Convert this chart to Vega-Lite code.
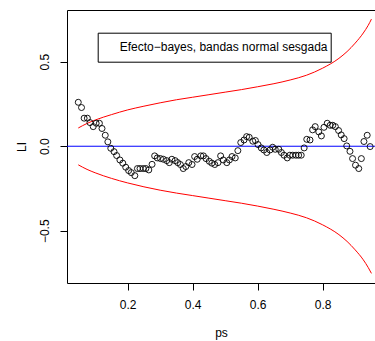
{
  "$schema": "https://vega.github.io/schema/vega-lite/v6.json",
  "width": 308,
  "height": 273,
  "autosize": "none",
  "padding": {"left": 67, "top": 10, "right": 0, "bottom": 58},
  "background": "white",
  "config": {
    "view": {"stroke": null},
    "font": "Liberation Sans",
    "axis": {"labelFont": "Liberation Sans", "titleFont": "Liberation Sans", "labelFontSize": 12, "titleFontSize": 12, "titleFontWeight": "normal", "labelColor": "black", "titleColor": "black", "tickColor": "black", "domainColor": "black", "grid": false}
  },
  "datasets": {
    "pts": [
      {"ps": 0.048, "LI": 0.26, "serie": "Efecto−bayes, bandas normal sesgada"},
      {"ps": 0.058, "LI": 0.229, "serie": "Efecto−bayes, bandas normal sesgada"},
      {"ps": 0.066, "LI": 0.166, "serie": "Efecto−bayes, bandas normal sesgada"},
      {"ps": 0.076, "LI": 0.166, "serie": "Efecto−bayes, bandas normal sesgada"},
      {"ps": 0.084, "LI": 0.14, "serie": "Efecto−bayes, bandas normal sesgada"},
      {"ps": 0.094, "LI": 0.116, "serie": "Efecto−bayes, bandas normal sesgada"},
      {"ps": 0.103, "LI": 0.136, "serie": "Efecto−bayes, bandas normal sesgada"},
      {"ps": 0.113, "LI": 0.136, "serie": "Efecto−bayes, bandas normal sesgada"},
      {"ps": 0.121, "LI": 0.105, "serie": "Efecto−bayes, bandas normal sesgada"},
      {"ps": 0.131, "LI": 0.065, "serie": "Efecto−bayes, bandas normal sesgada"},
      {"ps": 0.139, "LI": 0.026, "serie": "Efecto−bayes, bandas normal sesgada"},
      {"ps": 0.148, "LI": -0.012, "serie": "Efecto−bayes, bandas normal sesgada"},
      {"ps": 0.158, "LI": -0.032, "serie": "Efecto−bayes, bandas normal sesgada"},
      {"ps": 0.166, "LI": -0.055, "serie": "Efecto−bayes, bandas normal sesgada"},
      {"ps": 0.176, "LI": -0.081, "serie": "Efecto−bayes, bandas normal sesgada"},
      {"ps": 0.185, "LI": -0.1, "serie": "Efecto−bayes, bandas normal sesgada"},
      {"ps": 0.194, "LI": -0.124, "serie": "Efecto−bayes, bandas normal sesgada"},
      {"ps": 0.203, "LI": -0.144, "serie": "Efecto−bayes, bandas normal sesgada"},
      {"ps": 0.211, "LI": -0.156, "serie": "Efecto−bayes, bandas normal sesgada"},
      {"ps": 0.222, "LI": -0.174, "serie": "Efecto−bayes, bandas normal sesgada"},
      {"ps": 0.23, "LI": -0.132, "serie": "Efecto−bayes, bandas normal sesgada"},
      {"ps": 0.238, "LI": -0.132, "serie": "Efecto−bayes, bandas normal sesgada"},
      {"ps": 0.248, "LI": -0.132, "serie": "Efecto−bayes, bandas normal sesgada"},
      {"ps": 0.256, "LI": -0.132, "serie": "Efecto−bayes, bandas normal sesgada"},
      {"ps": 0.265, "LI": -0.14, "serie": "Efecto−bayes, bandas normal sesgada"},
      {"ps": 0.275, "LI": -0.107, "serie": "Efecto−bayes, bandas normal sesgada"},
      {"ps": 0.283, "LI": -0.057, "serie": "Efecto−bayes, bandas normal sesgada"},
      {"ps": 0.291, "LI": -0.069, "serie": "Efecto−bayes, bandas normal sesgada"},
      {"ps": 0.301, "LI": -0.073, "serie": "Efecto−bayes, bandas normal sesgada"},
      {"ps": 0.31, "LI": -0.077, "serie": "Efecto−bayes, bandas normal sesgada"},
      {"ps": 0.32, "LI": -0.085, "serie": "Efecto−bayes, bandas normal sesgada"},
      {"ps": 0.328, "LI": -0.097, "serie": "Efecto−bayes, bandas normal sesgada"},
      {"ps": 0.336, "LI": -0.077, "serie": "Efecto−bayes, bandas normal sesgada"},
      {"ps": 0.346, "LI": -0.085, "serie": "Efecto−bayes, bandas normal sesgada"},
      {"ps": 0.354, "LI": -0.097, "serie": "Efecto−bayes, bandas normal sesgada"},
      {"ps": 0.362, "LI": -0.108, "serie": "Efecto−bayes, bandas normal sesgada"},
      {"ps": 0.371, "LI": -0.132, "serie": "Efecto−bayes, bandas normal sesgada"},
      {"ps": 0.379, "LI": -0.12, "serie": "Efecto−bayes, bandas normal sesgada"},
      {"ps": 0.388, "LI": -0.097, "serie": "Efecto−bayes, bandas normal sesgada"},
      {"ps": 0.398, "LI": -0.108, "serie": "Efecto−bayes, bandas normal sesgada"},
      {"ps": 0.406, "LI": -0.061, "serie": "Efecto−bayes, bandas normal sesgada"},
      {"ps": 0.414, "LI": -0.077, "serie": "Efecto−bayes, bandas normal sesgada"},
      {"ps": 0.425, "LI": -0.057, "serie": "Efecto−bayes, bandas normal sesgada"},
      {"ps": 0.433, "LI": -0.057, "serie": "Efecto−bayes, bandas normal sesgada"},
      {"ps": 0.441, "LI": -0.073, "serie": "Efecto−bayes, bandas normal sesgada"},
      {"ps": 0.451, "LI": -0.089, "serie": "Efecto−bayes, bandas normal sesgada"},
      {"ps": 0.459, "LI": -0.1, "serie": "Efecto−bayes, bandas normal sesgada"},
      {"ps": 0.468, "LI": -0.108, "serie": "Efecto−bayes, bandas normal sesgada"},
      {"ps": 0.478, "LI": -0.097, "serie": "Efecto−bayes, bandas normal sesgada"},
      {"ps": 0.486, "LI": -0.057, "serie": "Efecto−bayes, bandas normal sesgada"},
      {"ps": 0.494, "LI": -0.081, "serie": "Efecto−bayes, bandas normal sesgada"},
      {"ps": 0.505, "LI": -0.097, "serie": "Efecto−bayes, bandas normal sesgada"},
      {"ps": 0.513, "LI": -0.081, "serie": "Efecto−bayes, bandas normal sesgada"},
      {"ps": 0.521, "LI": -0.061, "serie": "Efecto−bayes, bandas normal sesgada"},
      {"ps": 0.531, "LI": -0.069, "serie": "Efecto−bayes, bandas normal sesgada"},
      {"ps": 0.539, "LI": -0.026, "serie": "Efecto−bayes, bandas normal sesgada"},
      {"ps": 0.548, "LI": 0.022, "serie": "Efecto−bayes, bandas normal sesgada"},
      {"ps": 0.558, "LI": 0.037, "serie": "Efecto−bayes, bandas normal sesgada"},
      {"ps": 0.566, "LI": 0.057, "serie": "Efecto−bayes, bandas normal sesgada"},
      {"ps": 0.574, "LI": 0.053, "serie": "Efecto−bayes, bandas normal sesgada"},
      {"ps": 0.585, "LI": 0.03, "serie": "Efecto−bayes, bandas normal sesgada"},
      {"ps": 0.593, "LI": 0.034, "serie": "Efecto−bayes, bandas normal sesgada"},
      {"ps": 0.601, "LI": 0.01, "serie": "Efecto−bayes, bandas normal sesgada"},
      {"ps": 0.611, "LI": -0.01, "serie": "Efecto−bayes, bandas normal sesgada"},
      {"ps": 0.619, "LI": -0.022, "serie": "Efecto−bayes, bandas normal sesgada"},
      {"ps": 0.628, "LI": -0.037, "serie": "Efecto−bayes, bandas normal sesgada"},
      {"ps": 0.638, "LI": -0.022, "serie": "Efecto−bayes, bandas normal sesgada"},
      {"ps": 0.646, "LI": -0.006, "serie": "Efecto−bayes, bandas normal sesgada"},
      {"ps": 0.654, "LI": -0.018, "serie": "Efecto−bayes, bandas normal sesgada"},
      {"ps": 0.665, "LI": -0.018, "serie": "Efecto−bayes, bandas normal sesgada"},
      {"ps": 0.673, "LI": -0.037, "serie": "Efecto−bayes, bandas normal sesgada"},
      {"ps": 0.681, "LI": -0.053, "serie": "Efecto−bayes, bandas normal sesgada"},
      {"ps": 0.691, "LI": -0.069, "serie": "Efecto−bayes, bandas normal sesgada"},
      {"ps": 0.699, "LI": -0.053, "serie": "Efecto−bayes, bandas normal sesgada"},
      {"ps": 0.708, "LI": -0.053, "serie": "Efecto−bayes, bandas normal sesgada"},
      {"ps": 0.718, "LI": -0.053, "serie": "Efecto−bayes, bandas normal sesgada"},
      {"ps": 0.726, "LI": -0.053, "serie": "Efecto−bayes, bandas normal sesgada"},
      {"ps": 0.734, "LI": -0.053, "serie": "Efecto−bayes, bandas normal sesgada"},
      {"ps": 0.743, "LI": -0.01, "serie": "Efecto−bayes, bandas normal sesgada"},
      {"ps": 0.751, "LI": 0.041, "serie": "Efecto−bayes, bandas normal sesgada"},
      {"ps": 0.761, "LI": 0.037, "serie": "Efecto−bayes, bandas normal sesgada"},
      {"ps": 0.769, "LI": 0.097, "serie": "Efecto−bayes, bandas normal sesgada"},
      {"ps": 0.777, "LI": 0.116, "serie": "Efecto−bayes, bandas normal sesgada"},
      {"ps": 0.788, "LI": 0.085, "serie": "Efecto−bayes, bandas normal sesgada"},
      {"ps": 0.796, "LI": 0.061, "serie": "Efecto−bayes, bandas normal sesgada"},
      {"ps": 0.804, "LI": 0.112, "serie": "Efecto−bayes, bandas normal sesgada"},
      {"ps": 0.814, "LI": 0.136, "serie": "Efecto−bayes, bandas normal sesgada"},
      {"ps": 0.823, "LI": 0.124, "serie": "Efecto−bayes, bandas normal sesgada"},
      {"ps": 0.831, "LI": 0.124, "serie": "Efecto−bayes, bandas normal sesgada"},
      {"ps": 0.839, "LI": 0.116, "serie": "Efecto−bayes, bandas normal sesgada"},
      {"ps": 0.849, "LI": 0.093, "serie": "Efecto−bayes, bandas normal sesgada"},
      {"ps": 0.857, "LI": 0.067, "serie": "Efecto−bayes, bandas normal sesgada"},
      {"ps": 0.866, "LI": 0.045, "serie": "Efecto−bayes, bandas normal sesgada"},
      {"ps": 0.874, "LI": 0.002, "serie": "Efecto−bayes, bandas normal sesgada"},
      {"ps": 0.884, "LI": -0.03, "serie": "Efecto−bayes, bandas normal sesgada"},
      {"ps": 0.892, "LI": -0.073, "serie": "Efecto−bayes, bandas normal sesgada"},
      {"ps": 0.901, "LI": -0.112, "serie": "Efecto−bayes, bandas normal sesgada"},
      {"ps": 0.911, "LI": -0.132, "serie": "Efecto−bayes, bandas normal sesgada"},
      {"ps": 0.919, "LI": -0.073, "serie": "Efecto−bayes, bandas normal sesgada"},
      {"ps": 0.927, "LI": 0.028, "serie": "Efecto−bayes, bandas normal sesgada"},
      {"ps": 0.937, "LI": 0.065, "serie": "Efecto−bayes, bandas normal sesgada"},
      {"ps": 0.946, "LI": -0.002, "serie": "Efecto−bayes, bandas normal sesgada"}
    ],
    "bands": [
      {"ps": 0.048, "LI": 0.108, "banda": "sup"},
      {"ps": 0.075, "LI": 0.135, "banda": "sup"},
      {"ps": 0.1, "LI": 0.155, "banda": "sup"},
      {"ps": 0.15, "LI": 0.187, "banda": "sup"},
      {"ps": 0.2, "LI": 0.215, "banda": "sup"},
      {"ps": 0.25, "LI": 0.237, "banda": "sup"},
      {"ps": 0.3, "LI": 0.257, "banda": "sup"},
      {"ps": 0.35, "LI": 0.275, "banda": "sup"},
      {"ps": 0.4, "LI": 0.29, "banda": "sup"},
      {"ps": 0.45, "LI": 0.305, "banda": "sup"},
      {"ps": 0.5, "LI": 0.32, "banda": "sup"},
      {"ps": 0.55, "LI": 0.335, "banda": "sup"},
      {"ps": 0.6, "LI": 0.352, "banda": "sup"},
      {"ps": 0.65, "LI": 0.37, "banda": "sup"},
      {"ps": 0.7, "LI": 0.392, "banda": "sup"},
      {"ps": 0.75, "LI": 0.42, "banda": "sup"},
      {"ps": 0.8, "LI": 0.462, "banda": "sup"},
      {"ps": 0.85, "LI": 0.52, "banda": "sup"},
      {"ps": 0.875, "LI": 0.56, "banda": "sup"},
      {"ps": 0.9, "LI": 0.61, "banda": "sup"},
      {"ps": 0.925, "LI": 0.67, "banda": "sup"},
      {"ps": 0.94, "LI": 0.715, "banda": "sup"},
      {"ps": 0.95, "LI": 0.752, "banda": "sup"},
      {"ps": 0.048, "LI": -0.11, "banda": "inf"},
      {"ps": 0.075, "LI": -0.137, "banda": "inf"},
      {"ps": 0.1, "LI": -0.157, "banda": "inf"},
      {"ps": 0.15, "LI": -0.19, "banda": "inf"},
      {"ps": 0.2, "LI": -0.217, "banda": "inf"},
      {"ps": 0.25, "LI": -0.24, "banda": "inf"},
      {"ps": 0.3, "LI": -0.26, "banda": "inf"},
      {"ps": 0.35, "LI": -0.277, "banda": "inf"},
      {"ps": 0.4, "LI": -0.292, "banda": "inf"},
      {"ps": 0.45, "LI": -0.307, "banda": "inf"},
      {"ps": 0.5, "LI": -0.322, "banda": "inf"},
      {"ps": 0.55, "LI": -0.337, "banda": "inf"},
      {"ps": 0.6, "LI": -0.354, "banda": "inf"},
      {"ps": 0.65, "LI": -0.373, "banda": "inf"},
      {"ps": 0.7, "LI": -0.395, "banda": "inf"},
      {"ps": 0.75, "LI": -0.423, "banda": "inf"},
      {"ps": 0.8, "LI": -0.465, "banda": "inf"},
      {"ps": 0.85, "LI": -0.523, "banda": "inf"},
      {"ps": 0.875, "LI": -0.563, "banda": "inf"},
      {"ps": 0.9, "LI": -0.613, "banda": "inf"},
      {"ps": 0.925, "LI": -0.672, "banda": "inf"},
      {"ps": 0.94, "LI": -0.717, "banda": "inf"},
      {"ps": 0.95, "LI": -0.752, "banda": "inf"}
    ],
    "ref": [
      {"LI": 0}
    ]
  },
  "layer": [
    {
      "data": {"name": "bands"},
      "mark": {"type": "line", "color": "#FF0000", "strokeWidth": 1, "interpolate": "monotone", "clip": true},
      "encoding": {
        "x": {"field": "ps", "type": "quantitative", "scale": {"domain": [0.0133, 0.961], "nice": false, "zero": false},
          "axis": {"orient": "bottom", "values": [0.2, 0.4, 0.6, 0.8], "format": ".1f", "tickSize": 7, "labelPadding": 9, "title": "ps", "titleY": 53, "titleBaseline": "alphabetic", "labelFlush": false}},
        "y": {"field": "LI", "type": "quantitative", "scale": {"domain": [-0.809, 0.806], "nice": false, "zero": false},
          "axis": {"orient": "left", "values": [-0.5, 0, 0.5], "format": ".1f", "tickSize": 7, "labelAngle": -90, "labelAlign": "center", "labelBaseline": "bottom", "labelPadding": 9, "title": "LI", "titleX": -42, "titleY": 136.5, "titleAngle": -90, "titleAlign": "center", "titleBaseline": "alphabetic", "labelFlush": false}},
        "detail": {"field": "banda"}
      }
    },
    {
      "data": {"name": "ref"},
      "mark": {"type": "rule", "color": "#0000FF", "strokeWidth": 1},
      "encoding": {"y": {"field": "LI", "type": "quantitative"}}
    },
    {
      "data": {"name": "pts"},
      "mark": {"type": "point", "filled": false, "size": 36, "strokeWidth": 0.9, "opacity": 1},
      "encoding": {
        "x": {"field": "ps", "type": "quantitative", "axis": {"orient": "top", "ticks": false, "labels": false, "title": null, "domain": true}},
        "y": {"field": "LI", "type": "quantitative"},
        "color": {"field": "serie", "type": "nominal", "scale": {"range": ["black"]},
          "legend": {"orient": "none", "legendX": 30.7, "legendY": 22.7, "title": null, "strokeColor": "black", "padding": 3, "symbolSize": 529, "symbolOpacity": 0, "symbolStrokeWidth": 0, "labelOffset": -4, "labelFontSize": 12, "labelFont": "Liberation Sans", "labelColor": "black", "labelLimit": 0, "fillColor": "white"}}
      }
    }
  ]
}
